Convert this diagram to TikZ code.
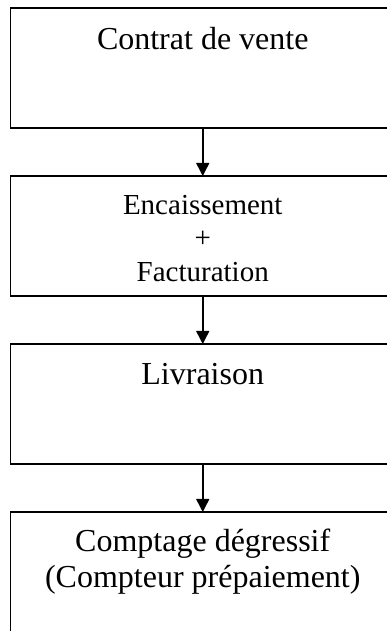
\documentclass[tikz,border=0pt]{standalone}
\usepackage{fontspec}
\setmainfont{Liberation Serif}
\usetikzlibrary{arrows.meta, positioning}

\begin{document}
\begin{tikzpicture}[
    x=1pt, y=1pt,
    node distance=48pt,
    etape/.style={rectangle, draw=black, line width=1.5pt, outer sep=0pt,
                minimum height=120pt, minimum width=384.5pt},
    txt/.style={inner sep=0pt, anchor=base, align=center,
                font=\fontsize{32}{35.7}\selectfont},
    arr/.style={-{Triangle[width=13pt, length=13pt]}, line width=1.5pt},
]
    \useasboundingbox (0,0) rectangle (387,631);

    \node[etape, anchor=north west] (contrat) at (10.5,623) {};
    \node[etape, below=of contrat] (encaisse) {};
    \node[etape, below=of encaisse] (livraison) {};
    \node[etape, below=of livraison, minimum height=126pt] (comptage) {};

    % base = last line of the text
    \node[txt, yshift=-42pt] (contrat-txt) at (contrat.north) {Contrat de vente};
    \node[txt, font=\fontsize{29}{33.7}\selectfont, yshift=-105.7pt] (encaisse-txt)
        at (encaisse.north) {Encaissement\\+\\Facturation};
    \node[txt, yshift=-41pt] (livraison-txt) at (livraison.north) {Livraison};
    \node[txt, yshift=-75.3pt] (comptage-txt)
        at (comptage.north) {Comptage dégressif\\(Compteur prépaiement)};

    \draw[arr] (contrat) -- (encaisse);
    \draw[arr] (encaisse) -- (livraison);
    \draw[arr] (livraison) -- (comptage);
\end{tikzpicture}
\end{document}
